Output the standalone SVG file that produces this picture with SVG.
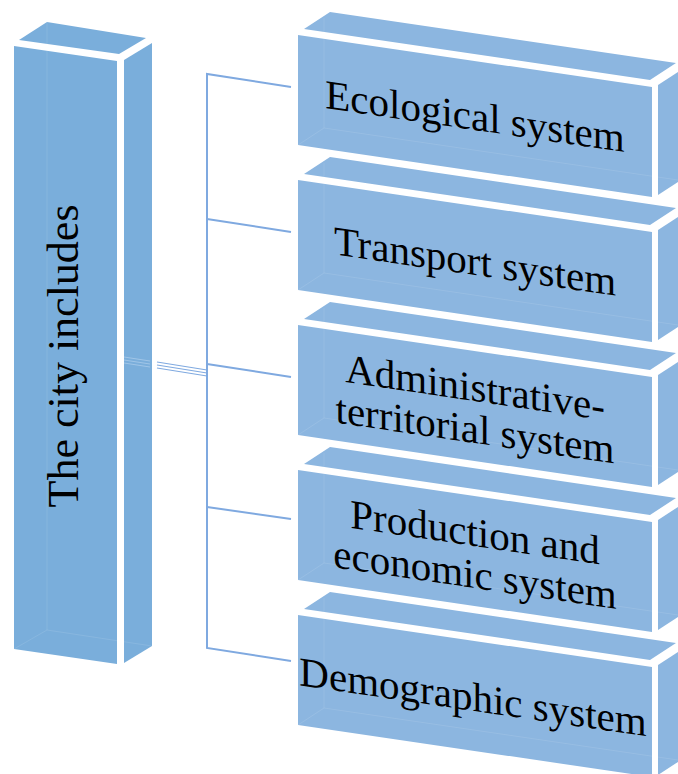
<svg xmlns="http://www.w3.org/2000/svg" width="678" height="774" viewBox="0 0 678 774">
<defs>
<style>
.lb{fill:#7AAEDB}
.rb{fill:#8CB6E0}
.hid{fill:none;stroke:#ffffff;stroke-opacity:0.1;stroke-width:1}
.con{fill:none;stroke:#7FA9E0;stroke-width:2}
.thin{fill:none;stroke:#7FA9E0;stroke-width:1.1}
.lbl{font-family:"Liberation Serif","Times New Roman",serif;font-size:41px;fill:#000;text-anchor:middle}
.ltxt{font-family:"Liberation Serif","Times New Roman",serif;font-size:44px;fill:#000;text-anchor:middle}
</style>
</defs>
<rect width="678" height="774" fill="#ffffff"/>

<g id="connectors">
<polyline class="con" points="291,87 207,74 207,648 291,661"/>
<line class="con" x1="207" y1="219" x2="291" y2="232"/>
<line class="con" x1="207" y1="364" x2="291" y2="377"/>
<line class="con" x1="207" y1="507" x2="291" y2="519"/>
<line class="thin" x1="157" y1="362" x2="207" y2="370"/>
<line class="thin" x1="157" y1="365" x2="207" y2="373"/>
<line class="thin" x1="157" y1="368" x2="207" y2="376"/>
</g>

<g id="city">
<polygon class="lb" points="14,46 117,61 117,664 14,649"/>
<polygon class="lb" points="19,40 47,22 146,38 119,54"/>
<polygon class="lb" points="124,60 152,43 152,646 124,663"/>
<path class="hid" d="M47,22 V630 M47,630 L14,649 M47,630 L152,646"/>
<g stroke="#A9CBEA" stroke-width="1" stroke-opacity="0.8">
<line x1="124" y1="357" x2="150" y2="361"/>
<line x1="124" y1="360" x2="150" y2="364"/>
<line x1="124" y1="363" x2="150" y2="367"/>
</g>
<text class="ltxt" transform="translate(78,356) rotate(-90)">The city includes</text>
</g>

<g id="ecological" transform="translate(0,35)">
<polygon class="rb" points="298,0 652,52 652,162 298,110"/>
<polygon class="rb" points="304,-6 330,-23 676,28 650,45"/>
<polygon class="rb" points="658,50 684,33 684,143 658,160"/>
<path class="hid" d="M324,-17 V93 M324,93 L298,110 M324,93 L678,145"/>
<g transform="translate(298,0) skewY(8.37)"><text class="lbl" x="177" y="69">Ecological system</text></g>
</g>

<g id="transport" transform="translate(0,180)">
<polygon class="rb" points="298,0 652,52 652,162 298,110"/>
<polygon class="rb" points="304,-6 330,-23 676,28 650,45"/>
<polygon class="rb" points="658,50 684,33 684,143 658,160"/>
<path class="hid" d="M324,-17 V93 M324,93 L298,110 M324,93 L678,145"/>
<g transform="translate(298,0) skewY(8.37)"><text class="lbl" x="177" y="69">Transport system</text></g>
</g>

<g id="administrative" transform="translate(0,325)">
<polygon class="rb" points="298,0 652,52 652,162 298,110"/>
<polygon class="rb" points="304,-6 330,-23 676,28 650,45"/>
<polygon class="rb" points="658,50 684,33 684,143 658,160"/>
<path class="hid" d="M324,-17 V93 M324,93 L298,110 M324,93 L678,145"/>
<g transform="translate(298,0) skewY(8.37)"><text class="lbl" x="177" y="50">Administrative-</text><text class="lbl" x="177" y="92">territorial system</text></g>
</g>

<g id="production" transform="translate(0,470)">
<polygon class="rb" points="298,0 652,52 652,162 298,110"/>
<polygon class="rb" points="304,-6 330,-23 676,28 650,45"/>
<polygon class="rb" points="658,50 684,33 684,143 658,160"/>
<path class="hid" d="M324,-17 V93 M324,93 L298,110 M324,93 L678,145"/>
<g transform="translate(298,0) skewY(8.37)"><text class="lbl" x="177" y="50">Production and</text><text class="lbl" x="177" y="92">economic system</text></g>
</g>

<g id="demographic" transform="translate(0,615)">
<polygon class="rb" points="298,0 652,52 652,162 298,110"/>
<polygon class="rb" points="304,-6 330,-23 676,28 650,45"/>
<polygon class="rb" points="658,50 684,33 684,143 658,160"/>
<path class="hid" d="M324,-17 V93 M324,93 L298,110 M324,93 L678,145"/>
<g transform="translate(298,0) skewY(8.37)"><text class="lbl" x="175" y="70">Demographic system</text></g>
</g>
</svg>
